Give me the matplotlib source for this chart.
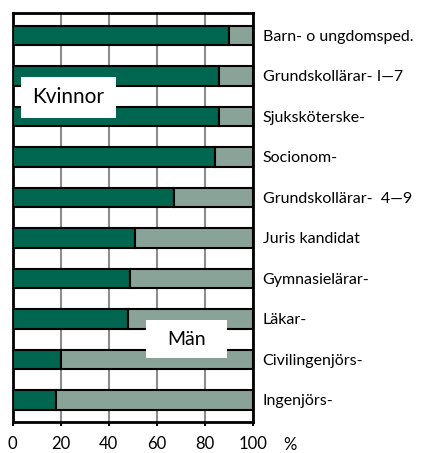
import matplotlib.pyplot as plt
from matplotlib.patches import Rectangle

# andel kvinnor (%) per utbildning, resten män
utbildning = ["Barn- o ungdomsped.", "Grundskollärar- I\u20147", "Sjuksköterske-",
              "Socionom-", "Grundskollärar-  4\u20149", "Juris kandidat",
              "Gymnasielärar-", "Läkar-", "Civilingenjörs-", "Ingenjörs-"]
kvinnor = [90, 86, 86, 84, 67, 51, 49, 48, 20, 18]
man = [100 - k for k in kvinnor]
xticks = [0, 20, 40, 60, 80, 100]

dark = "#00664f"
light = "#8aa398"

plt.rcParams['font.family'] = ['Lato', 'DejaVu Sans']

fig = plt.figure(figsize=(4.47, 4.53), dpi=100)
ax = fig.add_axes([0.028, 0.068, 0.538, 0.903])

pos = list(range(len(utbildning)))
ax.barh(pos, kvinnor, height=0.48, color=dark, edgecolor="black", linewidth=1.5, zorder=3)
ax.barh(pos, man, left=kvinnor, height=0.48, color=light, edgecolor="black", linewidth=1.5, zorder=3)

ax.set_xlim(0, 100)
ax.set_ylim(9.55, -0.55)
ax.set_xticks(xticks)
ax.set_xticklabels([str(t) for t in xticks], fontsize=12)
ax.xaxis.grid(True, color="#8c8c8c", linewidth=1.5, zorder=0)
ax.tick_params(axis="x", length=3, width=1.5, pad=7)

ax.set_yticks(pos)
ax.set_yticklabels(utbildning, fontsize=11.5)
ax.yaxis.tick_right()
ax.tick_params(axis="y", length=0, pad=7)

for s in ax.spines.values():
    s.set_linewidth(2)
    s.set_color("black")

ax.text(1.155, -0.035, "%", transform=ax.transAxes, fontsize=12, ha="center", va="top")

# white label boxes
ax.add_patch(Rectangle((3.5, 1.03), 39.6, 1.01, facecolor="white", edgecolor="none", zorder=5))
ax.text(23.3, 1.53, "Kvinnor", fontsize=15, ha="center", va="center", zorder=6)
ax.add_patch(Rectangle((55.6, 7.03), 33.4, 0.94, facecolor="white", edgecolor="none", zorder=5))
ax.text(72.3, 7.5, "Män", fontsize=14, ha="center", va="center", zorder=6)

fig.savefig("out.png", dpi=100)
